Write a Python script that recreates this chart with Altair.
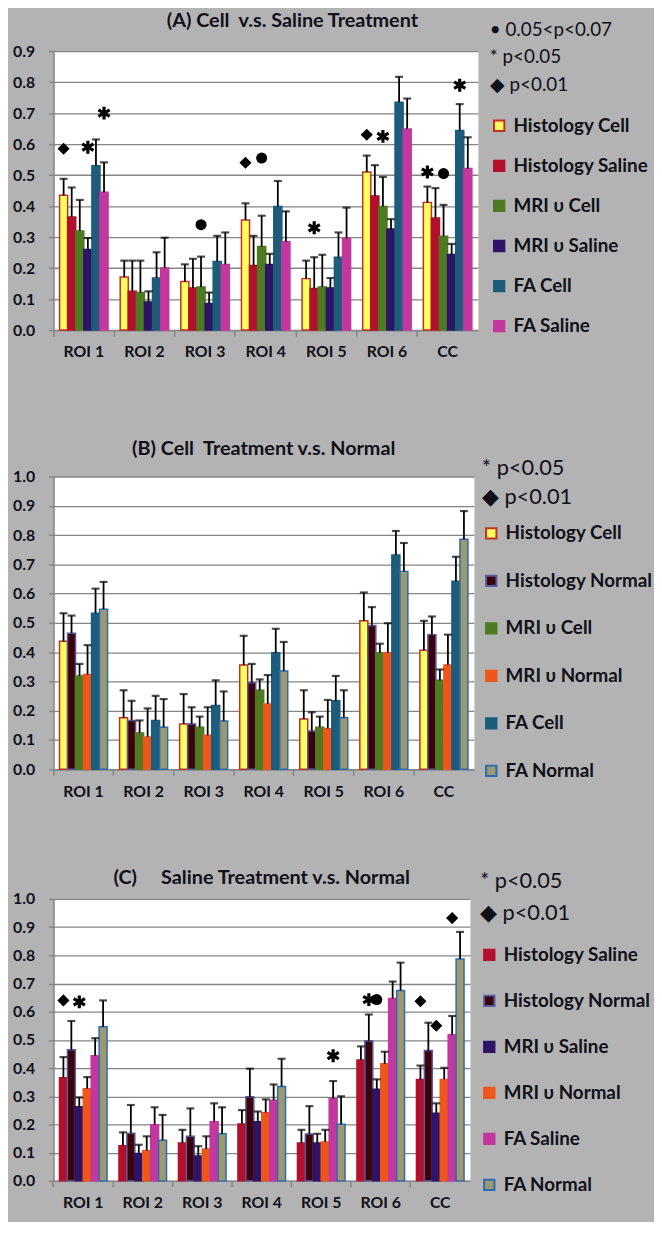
import altair as alt
import pandas as pd

FONT = "Lato"
TXT = "#101018"
GRID = "#858585"
BG = "#B3B3B3"

ROIS = ["ROI 1", "ROI 2", "ROI 3", "ROI 4", "ROI 5", "ROI 6", "CC"]

# ---------------- Panel A : Cell v.s. Saline ----------------
A_SERIES = ["Histology Cell", "Histology Saline", "MRI υ Cell", "MRI υ Saline", "FA Cell", "FA Saline"]
A_HIST_CELL = [0.435, 0.171, 0.157, 0.355, 0.166, 0.510, 0.412]
A_HIST_CELL_ERR = [0.053, 0.053, 0.055, 0.054, 0.058, 0.053, 0.051]
A_HIST_SAL = [0.365, 0.125, 0.136, 0.208, 0.134, 0.433, 0.362]
A_HIST_SAL_ERR = [0.095, 0.099, 0.094, 0.096, 0.101, 0.099, 0.096]
A_MRI_CELL = [0.320, 0.121, 0.139, 0.270, 0.139, 0.399, 0.303]
A_MRI_CELL_ERR = [0.100, 0.103, 0.098, 0.099, 0.104, 0.095, 0.101]
A_MRI_SAL = [0.260, 0.091, 0.086, 0.212, 0.136, 0.326, 0.244]
A_MRI_SAL_ERR = [0.037, 0.034, 0.035, 0.034, 0.032, 0.032, 0.034]
A_FA_CELL = [0.530, 0.168, 0.221, 0.399, 0.235, 0.735, 0.644]
A_FA_CELL_ERR = [0.085, 0.083, 0.083, 0.082, 0.080, 0.082, 0.085]
A_FA_SAL = [0.445, 0.200, 0.212, 0.285, 0.296, 0.649, 0.521]
A_FA_SAL_ERR = [0.096, 0.098, 0.103, 0.098, 0.099, 0.098, 0.101]
A_FILLS = ["#FFFF5C", "#B3102E", "#4E7A22", "#2D1466", "#1D5C7B", "#C2389F"]
A_STROKES = ["#C0302A", "#B3102E", "#4E7A22", "#2D1466", "#1D5C7B", "#C2389F"]
A_MK_ROI = ["ROI 1", "ROI 1", "ROI 1", "ROI 3", "ROI 4", "ROI 4", "ROI 5", "ROI 6", "ROI 6", "CC", "CC", "CC"]
A_MK_SER = ["Histology Cell", "MRI υ Saline", "FA Saline", "MRI υ Cell", "Histology Cell", "MRI υ Cell",
            "Histology Saline", "Histology Cell", "MRI υ Cell", "Histology Cell", "MRI υ Cell", "FA Cell"]
A_MK_KIND = ["diamond", "star", "star", "dot", "diamond", "dot", "star", "diamond", "star", "star", "dot", "star"]
A_MK_Y = [0.585, 0.59, 0.70, 0.34, 0.54, 0.555, 0.33, 0.63, 0.625, 0.51, 0.505, 0.79]
A_KEYS = ["• 0.05<p<0.07", "* p<0.05", "◆ p<0.01"]

# ---------------- Panel B : Cell Treatment v.s. Normal ----------------
B_SERIES = ["Histology Cell", "Histology Normal", "MRI υ Cell", "MRI υ Normal", "FA Cell", "FA Normal"]
B_HIST_CELL = [0.437, 0.176, 0.155, 0.356, 0.172, 0.507, 0.407]
B_HIST_CELL_ERR = [0.096, 0.094, 0.102, 0.100, 0.098, 0.097, 0.100]
B_HIST_NORM = [0.465, 0.167, 0.155, 0.296, 0.131, 0.491, 0.460]
B_HIST_NORM_ERR = [0.060, 0.067, 0.057, 0.064, 0.064, 0.063, 0.062]
B_MRI_CELL = [0.319, 0.124, 0.144, 0.270, 0.144, 0.398, 0.304]
B_MRI_CELL_ERR = [0.041, 0.043, 0.036, 0.037, 0.036, 0.031, 0.037]
B_MRI_NORM = [0.324, 0.110, 0.116, 0.223, 0.139, 0.398, 0.356]
B_MRI_NORM_ERR = [0.100, 0.098, 0.096, 0.099, 0.098, 0.101, 0.104]
B_FA_CELL = [0.533, 0.167, 0.218, 0.398, 0.234, 0.732, 0.642]
B_FA_CELL_ERR = [0.084, 0.084, 0.086, 0.082, 0.085, 0.082, 0.084]
B_FA_NORM = [0.547, 0.144, 0.165, 0.336, 0.176, 0.676, 0.786]
B_FA_NORM_ERR = [0.093, 0.096, 0.101, 0.099, 0.094, 0.097, 0.096]
B_FILLS = ["#FFFF5C", "#3B0209", "#4E7A22", "#F0561A", "#1D5C7B", "#9D9870"]
B_STROKES = ["#C0302A", "#5A5AA0", "#4E7A22", "#F0561A", "#1D5C7B", "#2B6CB0"]
B_KEYS = ["", "* p<0.05", "◆ p<0.01"]

# ---------------- Panel C : Saline Treatment v.s. Normal ----------------
C_SERIES = ["Histology Saline", "Histology Normal", "MRI υ  Saline", "MRI υ Normal", "FA Saline", "FA Normal"]
C_HIST_SAL = [0.366, 0.125, 0.134, 0.202, 0.134, 0.429, 0.360]
C_HIST_SAL_ERR = [0.073, 0.047, 0.047, 0.049, 0.047, 0.048, 0.049]
C_HIST_NORM = [0.465, 0.169, 0.158, 0.298, 0.166, 0.497, 0.462]
C_HIST_NORM_ERR = [0.102, 0.100, 0.099, 0.100, 0.099, 0.093, 0.099]
C_MRI_SAL = [0.263, 0.097, 0.088, 0.210, 0.134, 0.325, 0.240]
C_MRI_SAL_ERR = [0.033, 0.031, 0.035, 0.036, 0.033, 0.035, 0.035]
C_MRI_NORM = [0.327, 0.107, 0.113, 0.242, 0.138, 0.415, 0.360]
C_MRI_NORM_ERR = [0.041, 0.051, 0.045, 0.047, 0.043, 0.043, 0.041]
C_FA_SAL = [0.444, 0.199, 0.210, 0.286, 0.292, 0.647, 0.518]
C_FA_SAL_ERR = [0.062, 0.062, 0.065, 0.056, 0.062, 0.060, 0.067]
C_FA_NORM = [0.547, 0.144, 0.167, 0.335, 0.201, 0.675, 0.787]
C_FA_NORM_ERR = [0.093, 0.090, 0.094, 0.098, 0.099, 0.099, 0.096]
C_FILLS = ["#B3102E", "#3B0209", "#2D1466", "#F0561A", "#C2389F", "#9D9870"]
C_STROKES = ["#B3102E", "#5A5AA0", "#2D1466", "#F0561A", "#C2389F", "#2B6CB0"]
C_MK_ROI = ["ROI 1", "ROI 1", "ROI 5", "ROI 6", "ROI 6", "CC", "CC", "CC"]
C_MK_SER = ["Histology Saline", "MRI υ  Saline", "FA Saline", "Histology Normal", "MRI υ  Saline",
            "Histology Saline", "MRI υ  Saline", "FA Saline"]
C_MK_KIND = ["diamond", "star", "star", "star", "dot", "diamond", "diamond", "diamond"]
C_MK_Y = [0.64, 0.635, 0.444, 0.643, 0.643, 0.637, 0.55, 0.932]
C_KEYS = ["* p<0.05", "◆ p<0.01"]

ASTERISK = "M0,-1L0,1M-0.87,-0.5L0.87,0.5M-0.87,0.5L0.87,-0.5"


def build_df(series, means, errs):
    rows = []
    for s, m, e in zip(series, means, errs):
        for roi, v, d in zip(ROIS, m, e):
            rows.append({"roi": roi, "series": s, "value": v, "top": round(v + d, 4)})
    return pd.DataFrame(rows)


def build_markers(rois, sers, kinds, ys):
    return pd.DataFrame({"roi": rois, "series": sers, "kind": kinds, "y": ys})


def panel(df, mk, series, fills, strokes, ymax, width, height, title, title_dx, title_offset,
          keys, key_size, key_lh, lx, ly, row_pad, title_pad):
    nt = int(round(ymax * 10))
    yvals = [round(i / 10, 1) for i in range(nt + 1)]
    xscale = alt.Scale(domain=ROIS, paddingInner=0.2, paddingOuter=0.1)
    yscale = alt.Scale(domain=[0, ymax], nice=False)
    y_axis = alt.Axis(values=yvals, format=".1f", labelFont=FONT, labelFontSize=16,
                      labelFontWeight="bold", labelColor=TXT, labelPadding=14,
                      labelOverlap=False, tickSize=5, tickColor=GRID, tickWidth=1.5,
                      domainColor=GRID, domainWidth=1.5, grid=True, gridColor=GRID,
                      gridWidth=1.3)

    def Y(field):
        return alt.Y(field, title=None, scale=yscale, axis=y_axis)

    x_main = alt.X("roi:N", sort=ROIS, title=None, scale=xscale,
                   axis=alt.Axis(labelAngle=0, labelFont=FONT, labelFontSize=16, labelFontWeight="bold",
                                 labelColor=TXT, labelPadding=14, ticks=False, domain=True,
                                 domainColor=GRID, domainWidth=1.5, grid=False, orient="bottom"))
    x_ticks = alt.X("roi:N", sort=ROIS, title=None, scale=xscale,
                    axis=alt.Axis(bandPosition=-0.125, labels=False, ticks=True, tickSize=6,
                                  tickColor=GRID, tickWidth=1.5, domain=False, grid=False, orient="bottom"))
    x_none = alt.X("roi:N", sort=ROIS, title=None, scale=xscale, axis=None)
    xoff = alt.XOffset("series:N", sort=series,
                       scale=alt.Scale(domain=series, paddingInner=0, paddingOuter=0))
    legend = alt.Legend(orient="none", legendX=lx, legendY=ly, title=keys, titleFont=FONT,
                        titleFontSize=key_size, titleFontWeight="normal", titleColor=TXT,
                        titleLineHeight=key_lh, titlePadding=title_pad, titleLimit=400,
                        labelFont=FONT, labelFontSize=19, labelFontWeight="bold", labelColor=TXT,
                        labelLimit=400, labelOffset=5, symbolType="square", symbolSize=110,
                        symbolStrokeWidth=2, rowPadding=row_pad, padding=0)
    bars = alt.Chart(df).mark_bar(strokeWidth=1.5).encode(
        x=x_main, xOffset=xoff, y=Y("value:Q"),
        fill=alt.Fill("series:N", scale=alt.Scale(domain=series, range=fills), legend=legend),
        stroke=alt.Stroke("series:N", scale=alt.Scale(domain=series, range=strokes), legend=legend),
    )
    rules = alt.Chart(df).mark_rule(color="black", strokeWidth=1.8).encode(
        x=x_ticks, xOffset=xoff, y=Y("value:Q"), y2="top:Q")
    caps = alt.Chart(df).mark_tick(color="black", thickness=2.2, size=8).encode(
        x=x_none, xOffset=xoff, y=Y("top:Q"))
    layers = [bars, rules, caps]
    if mk is not None:
        base = alt.Chart(mk).encode(x=x_none, xOffset=xoff, y=Y("y:Q"))
        layers.append(base.transform_filter(alt.datum.kind == "diamond").mark_point(
            shape="diamond", filled=True, size=150, color="black", opacity=1))
        layers.append(base.transform_filter(alt.datum.kind == "dot").mark_point(
            shape="circle", filled=True, size=125, color="black", opacity=1))
        layers.append(base.transform_filter(alt.datum.kind == "star").mark_point(
            shape=ASTERISK, filled=False, size=170, color="black", strokeWidth=3.2, opacity=1))
    return alt.layer(*layers).resolve_axis(x="independent").properties(
        width=width, height=height,
        title=alt.TitleParams(text=title, font=FONT, fontSize=20, fontWeight="bold", color=TXT,
                              anchor="middle", dx=title_dx, offset=title_offset, frame="group"),
    )


dfA = build_df(A_SERIES, [A_HIST_CELL, A_HIST_SAL, A_MRI_CELL, A_MRI_SAL, A_FA_CELL, A_FA_SAL],
               [A_HIST_CELL_ERR, A_HIST_SAL_ERR, A_MRI_CELL_ERR, A_MRI_SAL_ERR, A_FA_CELL_ERR, A_FA_SAL_ERR])
dfB = build_df(B_SERIES, [B_HIST_CELL, B_HIST_NORM, B_MRI_CELL, B_MRI_NORM, B_FA_CELL, B_FA_NORM],
               [B_HIST_CELL_ERR, B_HIST_NORM_ERR, B_MRI_CELL_ERR, B_MRI_NORM_ERR, B_FA_CELL_ERR, B_FA_NORM_ERR])
dfC = build_df(C_SERIES, [C_HIST_SAL, C_HIST_NORM, C_MRI_SAL, C_MRI_NORM, C_FA_SAL, C_FA_NORM],
               [C_HIST_SAL_ERR, C_HIST_NORM_ERR, C_MRI_SAL_ERR, C_MRI_NORM_ERR, C_FA_SAL_ERR, C_FA_NORM_ERR])
mkA = build_markers(A_MK_ROI, A_MK_SER, A_MK_KIND, A_MK_Y)
mkC = build_markers(C_MK_ROI, C_MK_SER, C_MK_KIND, C_MK_Y)

NB = "\u00a0"
chartA = panel(dfA, mkA, A_SERIES, A_FILLS, A_STROKES, 0.9, 429, 282,
               "(A) Cell" + NB + NB + "v.s. Saline Treatment", 27, -10,
               A_KEYS, 19, 27.5, 441, -30, 20.5, 22)
chartB = panel(dfB, None, B_SERIES, B_FILLS, B_STROKES, 1.0, 425, 296,
               "(B) Cell" + NB + NB + "Treatment v.s. Normal", 0, -30,
               B_KEYS, 22, 29.5, 433, -48, 28, 15)
chartC = panel(dfC, mkC, C_SERIES, C_FILLS, C_STROKES, 1.0, 421, 285,
               "(C)" + NB * 5 + "Saline Treatment v.s. Normal", 0, -17,
               C_KEYS, 22, 32, 431, -28, 26.5, 21)

chart = alt.vconcat(chartA, chartB, chartC, spacing=68).resolve_scale(
    x="independent", y="independent", xOffset="independent", fill="independent", stroke="independent"
).resolve_legend(fill="independent", stroke="independent").configure(
    background=BG, padding={"left": 4, "top": -4, "right": 0, "bottom": 4}
).configure_view(fill="white", stroke="transparent")

chart.save("out.html", embed_options={"renderer": "svg", "actions": False})
